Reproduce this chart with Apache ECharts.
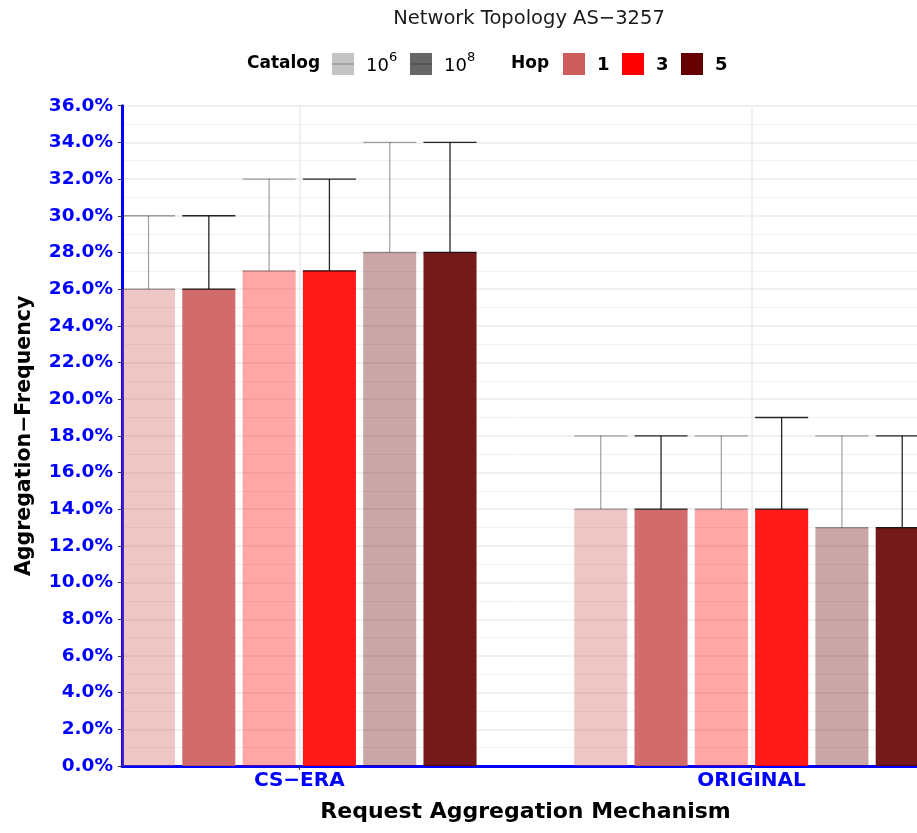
<!DOCTYPE html>
<html>
<head>
<meta charset="utf-8">
<script src="https://cdn.jsdelivr.net/npm/echarts@6/dist/echarts.min.js"></script>
<style>
  html, body { margin: 0; padding: 0; background: #fff; }
  #chart { width: 917px; height: 833px; }
</style>
</head>
<body>
<div id="chart"></div>
<script>
// x categories (request aggregation mechanism)
const categories = ['CS−ERA', 'ORIGINAL'];
const hops = ['1', '3', '5'];
const catalogs = ['6', '8']; // exponents: 10^6, 10^8

// aggregation frequency (%) per bar, order:
// hop1/10^6, hop1/10^8, hop3/10^6, hop3/10^8, hop5/10^6, hop5/10^8
const csEraMean = [26, 26, 27, 27, 28, 28];
const csEraUpper = [30, 30, 32, 32, 34, 34];
const originalMean = [14, 14, 14, 14, 13, 13];
const originalUpper = [18, 18, 18, 19, 18, 18];

// y ticks
const yMin = 0, yMax = 36, yStep = 2;

// styles
const FONT = 'DejaVu Sans';
const BLUE = '#0000ff';
const hopColors = ['205,92,92', '255,0,0', '102,0,0'];
const catalogAlpha = [0.35, 0.9];
const errColor = ['rgba(0,0,0,0.35)', 'rgba(0,0,0,0.85)'];

const nSlots = hops.length * catalogs.length;
const slotW = 0.8 / nSlots;
const barW = slotW * 0.88;

const chart = echarts.init(document.getElementById('chart'));

const series = [];
hops.forEach((h, hi) => {
  catalogs.forEach((c, ci) => {
    const s = hi * catalogs.length + ci;
    const fill = 'rgba(' + hopColors[hi] + ',' + catalogAlpha[ci] + ')';
    const stroke = errColor[ci];
    series.push({
      name: 'Hop ' + h + ' / 10^' + c,
      type: 'custom',
      clip: true,
      data: [
        [1, s, csEraMean[s], csEraUpper[s]],
        [2, s, originalMean[s], originalUpper[s]]
      ],
      encode: { x: 0, y: 2 },
      renderItem: function (params, api) {
        const xc = api.value(0) + (api.value(1) - (nSlots - 1) / 2) * slotW;
        const tl = api.coord([xc - barW / 2, api.value(2)]);
        const br = api.coord([xc + barW / 2, 0]);
        const top = api.coord([xc, api.value(3)]);
        const mid = (tl[0] + br[0]) / 2;
        const capStyle = { stroke: stroke, lineWidth: 1.3 };
        return {
          type: 'group',
          children: [
            { type: 'rect', shape: { x: tl[0], y: tl[1], width: br[0] - tl[0], height: br[1] - tl[1] }, style: { fill: fill } },
            { type: 'line', shape: { x1: mid, y1: tl[1], x2: mid, y2: top[1] }, style: capStyle },
            { type: 'line', shape: { x1: tl[0], y1: top[1], x2: br[0], y2: top[1] }, style: capStyle },
            { type: 'line', shape: { x1: tl[0], y1: tl[1], x2: br[0], y2: tl[1] }, style: capStyle }
          ]
        };
      }
    });
  });
});

// legend drawn as graphics (ggplot-style keys)
const legendY = 64;
const graphic = [
  { type: 'text', x: 247, y: legendY, style: { text: 'Catalog', font: 'bold 17px "' + FONT + '"', fill: '#000', verticalAlign: 'middle' } },
  { type: 'text', x: 511, y: legendY, style: { text: 'Hop', font: 'bold 17px "' + FONT + '"', fill: '#000', verticalAlign: 'middle' } }
];
const catKeyX = [332, 410];
const catKeyFill = ['#c4c4c4', '#676767'];
const catKeyLine = ['#a6a6a6', '#555555'];
catalogs.forEach((c, i) => {
  graphic.push({ type: 'rect', shape: { x: catKeyX[i], y: legendY - 11, width: 22, height: 22 }, style: { fill: catKeyFill[i] } });
  graphic.push({ type: 'line', shape: { x1: catKeyX[i], y1: legendY, x2: catKeyX[i] + 22, y2: legendY }, style: { stroke: catKeyLine[i], lineWidth: 2 } });
  graphic.push({
    type: 'text', x: catKeyX[i] + 34, y: legendY + 11,
    style: {
      text: '{b|10}{s|' + c + '}',
      verticalAlign: 'bottom',
      rich: {
        b: { fontFamily: FONT, fontSize: 18, color: '#000', verticalAlign: 'bottom', lineHeight: 24 },
        s: { fontFamily: FONT, fontSize: 13, color: '#000', verticalAlign: 'top', lineHeight: 24 }
      }
    }
  });
});
const hopKeyX = [563, 622, 681];
hops.forEach((h, i) => {
  graphic.push({ type: 'rect', shape: { x: hopKeyX[i], y: legendY - 11, width: 22, height: 22 }, style: { fill: 'rgb(' + hopColors[i] + ')' } });
  graphic.push({ type: 'text', x: hopKeyX[i] + 34, y: legendY + 1, style: { text: h, font: 'bold 18px "' + FONT + '"', fill: '#000', verticalAlign: 'middle' } });
});

const option = {
  backgroundColor: '#fff',
  animation: false,
  title: {
    text: 'Network Topology AS−3257',
    left: 524,
    textAlign: 'center',
    top: 4,
    textStyle: { fontFamily: FONT, fontWeight: 'normal', fontSize: 19.5, color: '#1a1a1a' }
  },
  graphic: graphic,
  grid: { left: 122, right: 0, top: 105.7, bottom: 67, containLabel: false },
  xAxis: {
    type: 'value',
    min: 0.608,
    max: 2.366,
    name: 'Request Aggregation Mechanism',
    nameLocation: 'middle',
    nameGap: 35,
    nameTextStyle: { fontFamily: FONT, fontWeight: 'bold', fontSize: 22, color: '#000', padding: [0, 0, 0, 12] },
    axisLine: { show: true, onZero: false, lineStyle: { color: BLUE, width: 3 } },
    axisTick: { show: true, customValues: [1, 2], length: 4, lineStyle: { color: '#333', width: 1 } },
    axisLabel: {
      customValues: [1, 2],
      formatter: v => categories[Math.round(v) - 1],
      fontFamily: FONT, fontWeight: 'bold', fontSize: 20, color: BLUE, margin: 5
    },
    splitLine: { show: true, lineStyle: { color: '#ebebeb', width: 1.5 } }
  },
  yAxis: {
    type: 'value',
    min: yMin,
    max: yMax,
    interval: yStep,
    name: 'Aggregation−Frequency',
    nameLocation: 'middle',
    nameGap: 87,
    nameTextStyle: { fontFamily: FONT, fontWeight: 'bold', fontSize: 20.5, color: '#000' },
    axisLine: { show: true, lineStyle: { color: BLUE, width: 3 } },
    axisTick: { show: true, length: 4, lineStyle: { color: '#333', width: 1 } },
    minorTick: { show: false, splitNumber: 2 },
    minorSplitLine: { show: true, lineStyle: { color: '#f1f1f1', width: 1 } },
    axisLabel: {
      formatter: v => v.toFixed(1) + '%',
      fontFamily: FONT, fontWeight: 'bold', fontSize: 18.5, color: BLUE, margin: 9
    },
    splitLine: { show: true, lineStyle: { color: '#ebebeb', width: 1.5 } }
  },
  series: series
};
chart.setOption(option);
</script>
</body>
</html>
